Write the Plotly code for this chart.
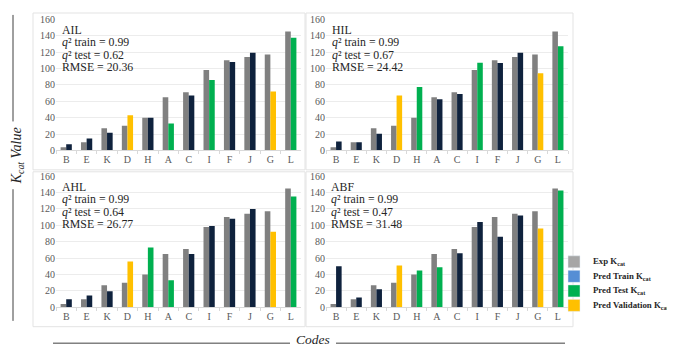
import plotly.graph_objects as go

codes = ["B", "E", "K", "D", "H", "A", "C", "I", "F", "J", "G", "L"]
exp_kcat = [4, 10, 27, 30, 40, 65, 71, 98, 110, 114, 117, 145]

panel_names = ["AIL", "HIL", "AHL", "ABF"]
q2_train = ["0.99", "0.99", "0.99", "0.99"]
q2_test = ["0.62", "0.67", "0.64", "0.47"]
rmse = ["20.36", "24.42", "26.77", "31.48"]

pred_ail = [7.5, 14.5, 21.5, 43, 40, 33, 67, 86, 108, 119, 72, 137.5]
pred_hil = [11, 10, 20.5, 67, 77.5, 62.5, 69, 107, 106.5, 119, 94, 127]
pred_ahl = [10, 14.5, 19.5, 56, 73, 33, 65, 99, 108, 120, 92, 135]
pred_abf = [50, 12, 22, 51, 45, 49, 66, 104, 86, 112, 96, 142.5]

set_ail = ["Train", "Train", "Train", "Val", "Train", "Test", "Train", "Test", "Train", "Train", "Val", "Test"]
set_hil = ["Train", "Train", "Train", "Val", "Test", "Train", "Train", "Test", "Train", "Train", "Val", "Test"]
set_ahl = ["Train", "Train", "Train", "Val", "Test", "Test", "Train", "Train", "Train", "Train", "Val", "Test"]
set_abf = ["Train", "Train", "Train", "Val", "Test", "Test", "Train", "Train", "Train", "Train", "Val", "Test"]

pred_values = [pred_ail, pred_hil, pred_ahl, pred_abf]
pred_sets = [set_ail, set_hil, set_ahl, set_abf]

legend_labels = ["Exp K<sub>cat</sub>", "Pred Train K<sub>cat</sub>",
                 "Pred Test K<sub>cat</sub>", "Pred Validation K<sub>cat</sub>"]

# styles
SERIF = "Liberation Serif, Times New Roman, serif"
EXP_COLOR = "#808080"
BAR_COLORS = {"Train": "#0f223d", "Test": "#00b050", "Val": "#ffc000"}
LEGEND_COLORS = ["#a6a6a6", "#558ed5", "#00b050", "#ffc000"]

W, H = 675, 346
def px(x): return x / W
def py(y): return 1 - y / H

fig = go.Figure()

# subplot geometry (pixels)
xdom = [(48, 293), (318, 560), (48, 293), (318, 560)]
ydom = [(6, 142), (6, 142), (168, 304), (168, 304)]
frames = [(25, 0, 297, 162), (298, 0, 565, 162), (25, 164, 297, 324), (298, 164, 565, 324)]
text_x = [52, 322, 52, 321]
text_y0 = [17.5, 17.5, 179.5, 179.5]

for i in range(4):
    ax = "" if i == 0 else str(i + 1)
    fig.add_trace(go.Bar(x=codes, y=exp_kcat, marker_color=EXP_COLOR, marker_line_width=0,
                         showlegend=False, xaxis="x" + ax, yaxis="y" + ax, name="Exp"))
    fig.add_trace(go.Bar(x=codes, y=pred_values[i],
                         marker_color=[BAR_COLORS[s] for s in pred_sets[i]], marker_line_width=0,
                         showlegend=False, xaxis="x" + ax, yaxis="y" + ax, name="Pred"))
    x0, x1 = xdom[i]
    y0, y1 = ydom[i]
    fig.layout["xaxis" + ax] = dict(
        domain=[px(x0), px(x1)], anchor="y" + ax, type="category",
        showline=True, linecolor="#d9d9d9", linewidth=1,
        ticks="outside", tickson="boundaries", ticklen=3, tickcolor="#d9d9d9",
        tickfont=dict(family=SERIF, size=10, color="#595959"),
        showgrid=False, fixedrange=True)
    fig.layout["yaxis" + ax] = dict(
        domain=[py(y1), py(y0)], anchor="x" + ax, range=[0, 160.5],
        tickvals=list(range(0, 161, 20)), showgrid=True, gridcolor="#ececec", gridwidth=1,
        zeroline=False, showline=False,
        tickfont=dict(family=SERIF, size=10, color="#595959"), ticks="")
    # frame
    fx0, fy0, fx1, fy1 = frames[i]
    fig.add_shape(type="rect", xref="paper", yref="paper",
                  x0=px(fx0), x1=px(fx1), y0=py(fy1), y1=py(fy0),
                  line=dict(color="#e3e3e3", width=1), layer="below")
    lines = [panel_names[i],
             "<i>q</i>\u00b2 train = " + q2_train[i],
             "<i>q</i>\u00b2 test = " + q2_test[i],
             "RMSE = " + rmse[i]]
    for k, t in enumerate(lines):
        fig.add_annotation(text=t, xref="paper", yref="paper",
                           x=px(text_x[i]), y=py(text_y0[i] + 12.9 * k),
                           xanchor="left", yanchor="middle", showarrow=False,
                           font=dict(family=SERIF, size=11.8, color="#262626"))

# legend: swatches from plotly legends (one per entry), labels as text beside them
fig.layout["xaxis5"] = dict(domain=[0.99, 1.0], anchor="y5", visible=False)
fig.layout["yaxis5"] = dict(domain=[0.0, 0.01], anchor="x5", visible=False)
legend_rows = [257, 272, 287, 302]
for j, (lab, col) in enumerate(zip(legend_labels, LEGEND_COLORS)):
    lname = "legend" if j == 0 else "legend" + str(j + 1)
    fig.add_trace(go.Bar(x=[None], y=[None], marker_color=col, name=" ",
                         showlegend=True, xaxis="x5", yaxis="y5", legend=lname))
    fig.layout[lname] = dict(x=px(546), y=py(legend_rows[j]), xanchor="left", yanchor="middle",
                             font=dict(family=SERIF, size=9, color="#262626"),
                             bgcolor="rgba(0,0,0,0)", borderwidth=0, itemclick=False,
                             itemdoubleclick=False)
    fig.add_annotation(text="<b>" + lab + "</b>", xref="paper", yref="paper",
                       x=px(583), y=py(legend_rows[j]), xanchor="left", yanchor="middle",
                       showarrow=False, font=dict(family=SERIF, size=8.8, color="#262626"))

# axis titles
fig.add_annotation(text="<i>K<sub>cat</sub> Value</i>", xref="paper", yref="paper",
                   x=px(9), y=py(148), textangle=-90, showarrow=False,
                   xanchor="center", yanchor="middle",
                   font=dict(family=SERIF, size=14, color="#262626"))
fig.add_annotation(text="<i>Codes</i>", xref="paper", yref="paper",
                   x=px(305), y=py(337), showarrow=False,
                   xanchor="center", yanchor="middle",
                   font=dict(family=SERIF, size=13.5, color="#262626"))
for (a, b, c, d) in [(5, 2, 5, 112), (5, 182, 5, 318)]:
    fig.add_shape(type="line", xref="paper", yref="paper", x0=px(a), y0=py(b), x1=px(c), y1=py(d),
                  line=dict(color="#404040", width=1))
for (a, b, c, d) in [(45, 341, 282, 341), (328, 341, 557, 341)]:
    fig.add_shape(type="line", xref="paper", yref="paper", x0=px(a), y0=py(b), x1=px(c), y1=py(d),
                  line=dict(color="#404040", width=1))

fig.update_layout(
    width=W, height=H, margin=dict(l=0, r=0, t=0, b=0),
    paper_bgcolor="white", plot_bgcolor="white",
    barmode="group", bargap=0.45, bargroupgap=0,
    font=dict(family=SERIF),
)

fig.write_html("out.html")
